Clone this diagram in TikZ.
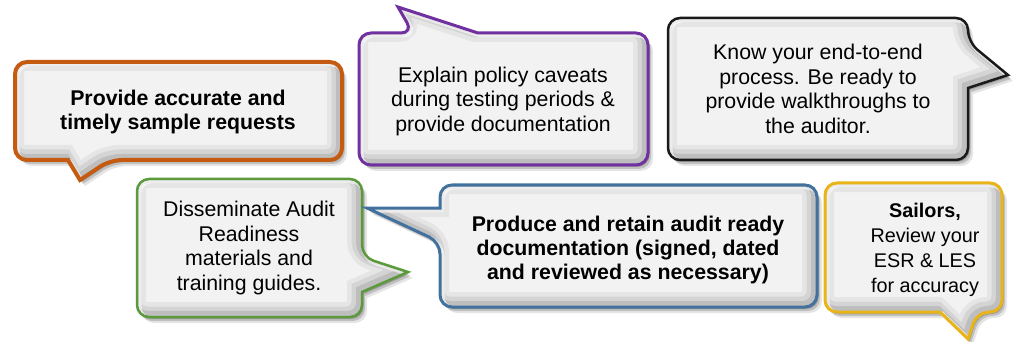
\documentclass[tikz,border=0pt]{standalone}
\usepackage{fontspec}
\setmainfont{Liberation Sans}
\definecolor{cOrange}{HTML}{C55A11}
\definecolor{cPurple}{HTML}{7030A0}
\definecolor{cBlack}{HTML}{1A1A1A}
\definecolor{cGreen}{HTML}{5A9A3A}
\definecolor{cBlue}{HTML}{41719C}
\definecolor{cGold}{HTML}{E8B418}
\definecolor{bubfill}{HTML}{F2F2F2}
\tikzset{
  bubtext/.style={align=center, text=black, inner sep=0pt, font=\fontsize{21.3}{24.5}\selectfont},
}
\newcommand\bubble[3]{%
  \fill[black,opacity=0.10,rounded corners=12,shift={(5,6)}] #1;
  \fill[black,opacity=0.16,rounded corners=12,shift={(3,4)}] #1;
  \fill[black,opacity=0.20,rounded corners=12,shift={(1.5,2)}] #1;
  \begin{scope}
    \clip[rounded corners=12] #1;
    \fill[bubfill] (0,0) rectangle (1015,342);
    \draw[black,opacity=0.05,line width=24,rounded corners=12,shift={(-3,-3)}] #1;
    \draw[black,opacity=0.07,line width=15,rounded corners=12,shift={(-3,-3)}] #1;
    \draw[black,opacity=0.10,line width=8,rounded corners=12,shift={(-2,-2)}] #1;
    \draw[white,opacity=0.6,line width=5,rounded corners=12,shift={(2,2)}] #1;
  \end{scope}
  \draw[#2,line width=#3,rounded corners=12] #1;
}
\begin{document}
\begin{tikzpicture}[x=1pt,y=-1pt]
\useasboundingbox (0,0) rectangle (1015,342);
% orange
\bubble{(15,62) -- (342,62) -- (342,160) -- (110,160) [sharp corners] -- (80,180) -- (68,160) [rounded corners=12] -- (15,160) -- cycle}{cOrange}{4}
% purple
\bubble{(359,33) -- (413,33) [sharp corners] -- (398,7) -- (478,33) [rounded corners=12] -- (648,33) -- (648,165) -- (359,165) -- cycle}{cPurple}{3}
% black
\bubble{(668,18) -- (968,18) -- (968,42) [sharp corners] -- (1008,75) -- (968,88) [rounded corners=12] -- (968,160) -- (668,160) -- cycle}{cBlack}{2.5}
% green
\bubble{(137,179) -- (362,179) -- (362,257) [sharp corners] -- (408,272) -- (362,292) [rounded corners=12] -- (362,317) -- (137,317) -- cycle}{cGreen}{2.5}
% blue
\bubble{(440,185) -- (817,185) -- (817,307) -- (440,307) -- (440,242) [sharp corners] -- (367,208) -- (440,208) [rounded corners=12] -- cycle}{cBlue}{3}
% gold
\bubble{(825,183) -- (1002,183) -- (1002,312) -- (977,312) [sharp corners] -- (968,339) -- (940,312) [rounded corners=12] -- (825,312) -- cycle}{cGold}{3}

\node[bubtext,font=\fontsize{21.3}{24.5}\selectfont\bfseries] (t1) at (178,112) {Provide accurate and\\timely sample requests};
\node[bubtext] (t2) at (503,101) {Explain policy caveats\\during testing periods \&\\provide documentation};
\node[bubtext] (t3) at (818,89) {Know your end-to-end\\process. Be ready to\\provide walkthroughs to\\the auditor.};
\node[bubtext] (t4) at (249,248) {Disseminate Audit\\Readiness\\materials and\\training guides.};
\node[bubtext,font=\fontsize{21.3}{24}\selectfont\bfseries] (t5) at (628,250) {Produce and retain audit ready\\documentation (signed, dated\\and reviewed as necessary)};
\node[bubtext,font=\fontsize{19.8}{25}\selectfont] (t6) at (925,250) {\textbf{Sailors,}\\Review your\\ESR \& LES\\for accuracy};
\end{tikzpicture}
\end{document}
